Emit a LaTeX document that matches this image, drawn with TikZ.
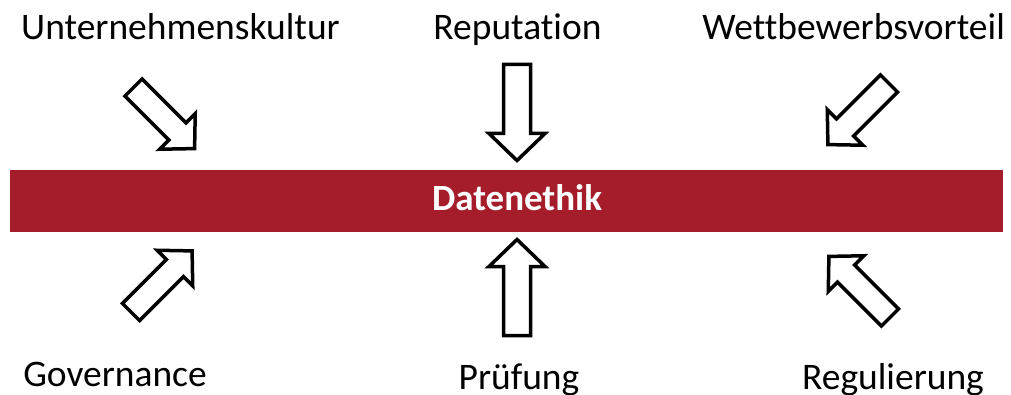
\documentclass[tikz,border=0pt]{standalone}
\usepackage{fontspec}
\setmainfont{Carlito}[Ligatures={NoCommon}]
\definecolor{barred}{RGB}{165,28,42}
\tikzset{
  lbl/.style={anchor=base, font=\fontsize{37.5}{42}\selectfont, inner sep=0pt},
  blockarrow/.style={draw=black, fill=white, line width=3.5pt, miter limit=10},
  hollowarrow/.pic={
    \path[blockarrow] (0,-13.5) -- (69,-13.5) -- (69,-28) -- (96,0) -- (69,28) -- (69,13.5) -- (0,13.5) -- cycle;
  }
}
\begin{document}
\begin{tikzpicture}[x=1pt,y=1pt]
  \useasboundingbox (0,0) rectangle (1011,394);
  % central bar
  \node[fill=barred, minimum width=993pt, minimum height=62pt, inner sep=0pt] (bar) at (506.5,193) {};
  \node[anchor=base, inner sep=0pt, text=white, font=\fontsize{37}{42}\selectfont\bfseries] (ethik) at (517,183) {Datenethik};
  % influencing factors
  \node[lbl] (kultur) at (180.5,354) {Unternehmenskultur};
  \node[lbl] (reput) at (517.5,354) {Reputation};
  \node[lbl] (wettb) at (853.5,354) {Wettbewerbsvorteil};
  \node[lbl] (gov) at (115,8) {Governance};
  \node[lbl] (pruef) at (519,5) {Prüfung};
  \node[lbl] (regul) at (893,5) {Regulierung};
  % hollow block arrows pointing at the bar
  \pic (a1) at (133.5,306.5) [rotate=-45, scale=0.9] {hollowarrow};
  \pic (a2) at (517,329.5) [rotate=-90] {hollowarrow};
  \pic (a3) at (889,310.5) [rotate=-135, scale=0.9] {hollowarrow};
  \pic (a4) at (131,82) [rotate=45, scale=0.9] {hollowarrow};
  \pic (a5) at (517,58.5) [rotate=90] {hollowarrow};
  \pic (a6) at (890,76.5) [rotate=135, scale=0.9] {hollowarrow};
\end{tikzpicture}
\end{document}
